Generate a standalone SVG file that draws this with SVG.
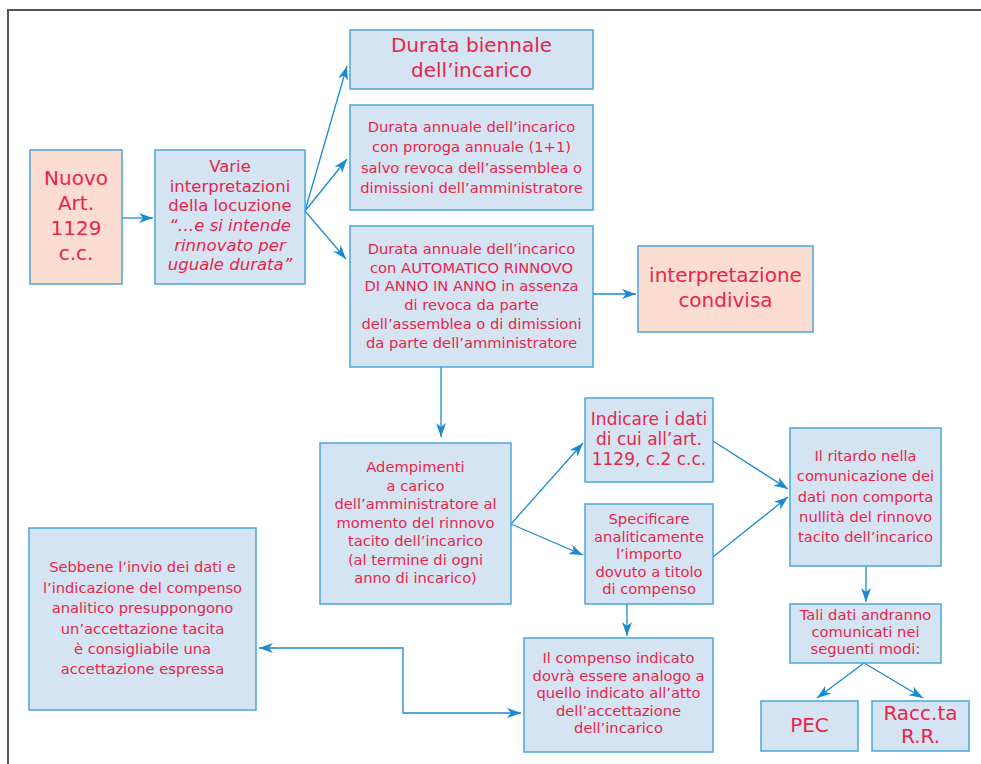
<svg xmlns="http://www.w3.org/2000/svg" width="981" height="764" viewBox="0 0 981 764">
<style>
.b{fill:#d4e4f3;stroke:#4ba6dc;stroke-width:1.5}
.p{fill:#fbdcd1;stroke:#4ba6dc;stroke-width:1.5}
text{font-family:"DejaVu Sans",Verdana,sans-serif;fill:#e8254a;text-anchor:middle}
.t20{font-size:20px}
.t17{font-size:17px}
.t16{font-size:16.5px}
.t15{font-size:14.7px}
.c{fill:none;stroke:#1b8ad0;stroke-width:1.3}
</style>
<defs>
<marker id="a" markerUnits="userSpaceOnUse" markerWidth="16" markerHeight="12" refX="14" refY="5" orient="auto">
<path d="M0,0 L14,5 L0,10 L4,5 z" fill="#1b8ad0"/>
</marker>
<marker id="s" markerUnits="userSpaceOnUse" markerWidth="16" markerHeight="12" refX="14" refY="5" orient="auto-start-reverse">
<path d="M0,0 L14,5 L0,10 L4,5 z" fill="#1b8ad0"/>
</marker>
</defs>
<rect width="981" height="764" fill="#fff"/>
<path d="M8,764 V10 H981" fill="none" stroke="#555" stroke-width="2"/>

<g id="connectors">
<path class="c" d="M122,218 H153" marker-end="url(#a)"/>
<path class="c" d="M305,211 L347,66" marker-end="url(#a)"/>
<path class="c" d="M305,211 L347,159" marker-end="url(#a)"/>
<path class="c" d="M305,211 L346,259" marker-end="url(#a)"/>
<path class="c" d="M593,294 H636" marker-end="url(#a)"/>
<path class="c" d="M441,367 V437" marker-end="url(#a)"/>
<path class="c" d="M511,524 L583,443" marker-end="url(#a)"/>
<path class="c" d="M511,524 L583,555" marker-end="url(#a)"/>
<path class="c" d="M713,441 L788,489" marker-end="url(#a)"/>
<path class="c" d="M713,557 L788,497" marker-end="url(#a)"/>
<path class="c" d="M866,566 V602" marker-end="url(#a)"/>
<path class="c" d="M864,663 L817,698" marker-end="url(#a)"/>
<path class="c" d="M864,663 L923,698" marker-end="url(#a)"/>
<path class="c" d="M627,604 V636" marker-end="url(#a)"/>
<path class="c" d="M259,648 H403 V713 H521" marker-start="url(#s)" marker-end="url(#a)"/>
</g>

<g id="n1">
<rect class="p" x="30" y="150" width="92" height="134"/>
<text class="t20" x="76" y="185">Nuovo</text>
<text class="t20" x="76" y="210">Art.</text>
<text class="t20" x="76" y="235">1129</text>
<text class="t20" x="76" y="260">c.c.</text>
</g>

<g id="n2">
<rect class="b" x="155" y="150" width="150" height="134"/>
<text class="t16" x="230" y="172">Varie</text>
<text class="t16" x="230" y="191.5">interpretazioni</text>
<text class="t16" x="230" y="211">della locuzione</text>
<text class="t16" x="230" y="231" font-style="italic">“…e si intende</text>
<text class="t16" x="230" y="250.5" font-style="italic">rinnovato per</text>
<text class="t16" x="230" y="270" font-style="italic">uguale durata”</text>
</g>

<g id="n3">
<rect class="b" x="350" y="30" width="243" height="59"/>
<text class="t20" x="471.5" y="52">Durata biennale</text>
<text class="t20" x="471.5" y="77">dell’incarico</text>
</g>

<g id="n4">
<rect class="b" x="350" y="105" width="243" height="105"/>
<text class="t15" x="471.5" y="132">Durata annuale dell’incarico</text>
<text class="t15" x="471.5" y="152">con proroga annuale (1+1)</text>
<text class="t15" x="471.5" y="172.5">salvo revoca dell’assemblea o</text>
<text class="t15" x="471.5" y="193">dimissioni dell’amministratore</text>
</g>

<g id="n5">
<rect class="b" x="350" y="226" width="243" height="141"/>
<text class="t15" x="471.5" y="254">Durata annuale dell’incarico</text>
<text class="t15" x="471.5" y="272.7">con AUTOMATICO RINNOVO</text>
<text class="t15" x="471.5" y="291.4">DI ANNO IN ANNO in assenza</text>
<text class="t15" x="471.5" y="310.1">di revoca da parte</text>
<text class="t15" x="471.5" y="328.8">dell’assemblea o di dimissioni</text>
<text class="t15" x="471.5" y="347.5">da parte dell’amministratore</text>
</g>

<g id="n6">
<rect class="p" x="638" y="246" width="175" height="86"/>
<text class="t20" x="725.5" y="282">interpretazione</text>
<text class="t20" x="725.5" y="307">condivisa</text>
</g>

<g id="n7">
<rect class="b" x="320" y="443" width="191" height="161"/>
<text class="t15" x="415.5" y="472">Adempimenti</text>
<text class="t15" x="415.5" y="490.5">a carico</text>
<text class="t15" x="415.5" y="509">dell’amministratore al</text>
<text class="t15" x="415.5" y="527.5">momento del rinnovo</text>
<text class="t15" x="415.5" y="546">tacito dell’incarico</text>
<text class="t15" x="415.5" y="564.5">(al termine di ogni</text>
<text class="t15" x="415.5" y="583">anno di incarico)</text>
</g>

<g id="n8">
<rect class="b" x="585" y="398" width="128" height="84"/>
<text class="t17" x="649" y="425">Indicare i dati</text>
<text class="t17" x="649" y="445">di cui all’art.</text>
<text class="t17" x="649" y="465">1129, c.2 c.c.</text>
</g>

<g id="n9">
<rect class="b" x="585" y="504" width="128" height="100"/>
<text class="t15" x="649" y="524">Specificare</text>
<text class="t15" x="649" y="541.5">analiticamente</text>
<text class="t15" x="649" y="559">l’importo</text>
<text class="t15" x="649" y="576.5">dovuto a titolo</text>
<text class="t15" x="649" y="594">di compenso</text>
</g>

<g id="n10">
<rect class="b" x="790" y="428" width="151" height="138"/>
<text class="t15" x="865.5" y="461">Il ritardo nella</text>
<text class="t15" x="865.5" y="481">comunicazione dei</text>
<text class="t15" x="865.5" y="501.5">dati non comporta</text>
<text class="t15" x="865.5" y="522">nullità del rinnovo</text>
<text class="t15" x="865.5" y="542">tacito dell’incarico</text>
</g>

<g id="n11">
<rect class="b" x="790" y="604" width="151" height="59"/>
<text class="t15" x="865.5" y="620">Tali dati andranno</text>
<text class="t15" x="865.5" y="637">comunicati nei</text>
<text class="t15" x="865.5" y="654">seguenti modi:</text>
</g>

<g id="n12">
<rect class="b" x="761" y="701" width="97" height="50"/>
<text class="t20" x="809.5" y="732">PEC</text>
</g>

<g id="n13">
<rect class="b" x="872" y="701" width="97" height="50"/>
<text class="t20" x="920.5" y="720">Racc.ta</text>
<text class="t20" x="920.5" y="743">R.R.</text>
</g>

<g id="n14">
<rect class="b" x="524" y="638" width="189" height="114"/>
<text class="t15" x="618.5" y="663">Il compenso indicato</text>
<text class="t15" x="618.5" y="680.5">dovrà essere analogo a</text>
<text class="t15" x="618.5" y="698">quello indicato all’atto</text>
<text class="t15" x="618.5" y="715.5">dell’accettazione</text>
<text class="t15" x="618.5" y="733">dell’incarico</text>
</g>

<g id="n15">
<rect class="b" x="29" y="528" width="227" height="182"/>
<text class="t15" x="142.5" y="572">Sebbene l’invio dei dati e</text>
<text class="t15" x="142.5" y="592.5">l’indicazione del compenso</text>
<text class="t15" x="142.5" y="613">analitico presuppongono</text>
<text class="t15" x="142.5" y="633.5">un’accettazione tacita</text>
<text class="t15" x="142.5" y="654">è consigliabile una</text>
<text class="t15" x="142.5" y="674">accettazione espressa</text>
</g>
</svg>
